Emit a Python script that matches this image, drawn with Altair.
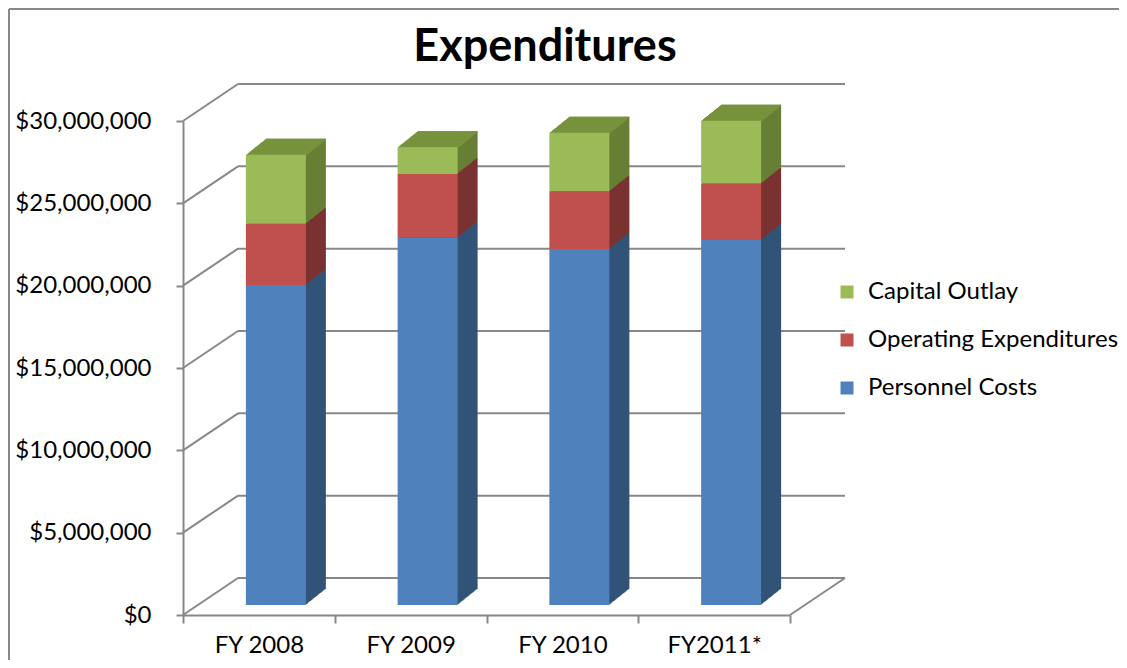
import altair as alt
import pandas as pd

# ---- data ----
years = ["FY 2008", "FY 2009", "FY 2010", "FY2011*"]
series_names = ["Personnel Costs", "Operating Expenditures", "Capital Outlay"]
legend_order = ["Capital Outlay", "Operating Expenditures", "Personnel Costs"]
personnel = [19_430_000, 22_310_000, 21_620_000, 22_170_000]
operating = [3_720_000, 3_870_000, 3_500_000, 3_420_000]
capital = [4_190_000, 1_620_000, 3_560_000, 3_820_000]
y_ticks = [0, 5_000_000, 10_000_000, 15_000_000, 20_000_000, 25_000_000, 30_000_000]

# ---- styles ----
FRONT = ["#9BBB59", "#C0504D", "#4F81BD"]      # legend_order
SIDE = ["#677F35", "#7B3331", "#335479"]       # legend_order
TOP = "#77933C"
GRID = "#888888"
FONT = "Lato"

rows = []
for i, yr in enumerate(years):
    base = 0
    for name, vals in zip(series_names, [personnel, operating, capital]):
        rows.append({"year": yr, "series": name, "y0": base, "y1": base + vals[i]})
        base += vals[i]
df = pd.DataFrame(rows)
tot = df.groupby("year", sort=False)["y1"].max().reset_index().rename(columns={"y1": "total"})
grid_df = pd.DataFrame({"v": y_ticks})
one = pd.DataFrame({"a": [0]})

W, H = 607, 494
DX_WALL, DY_WALL = 55, -37
BAR_DX, BAR_DY = 17, -10
DEPTH_X, DEPTH_Y = 20, -16
BAR_W = 60

yscale = alt.Scale(domain=[0, 30_000_000], nice=False, zero=True)
xscale = alt.Scale(domain=years, paddingInner=0, paddingOuter=0)
yaxis = alt.Axis(format="$,.0f", values=y_ticks, title=None, grid=False,
                 domainColor=GRID, domainWidth=2, tickColor=GRID, tickWidth=2,
                 tickSize=7, labelPadding=25, labelFontSize=24, labelFont=FONT,
                 labelColor="black")
xaxis = alt.Axis(title=None, grid=False, domainColor=GRID, domainWidth=2,
                 tickColor=GRID, tickWidth=2, tickSize=8, tickBand="extent",
                 labelPadding=10, labelFontSize=24, labelFont=FONT,
                 labelColor="black", labelAngle=0)


def X():
    return alt.X("year:N", sort=years, scale=xscale, axis=xaxis)


def Y(field):
    return alt.Y(f"{field}:Q", scale=yscale, axis=yaxis)


layers = []

# back wall gridlines
layers.append(
    alt.Chart(grid_df).mark_rule(color=GRID, strokeWidth=2, yOffset=DY_WALL).encode(
        y=Y("v"), x=alt.value(DX_WALL), x2=alt.value(W + DX_WALL)
    )
)
# left side wall diagonals
layers.append(
    alt.Chart(grid_df).mark_rule(color=GRID, strokeWidth=2, y2Offset=DY_WALL).encode(
        y=Y("v"), y2="v:Q", x=alt.value(0), x2=alt.value(DX_WALL)
    )
)
# right floor diagonal
layers.append(
    alt.Chart(grid_df[grid_df.v == 0]).mark_rule(color=GRID, strokeWidth=2, y2Offset=DY_WALL).encode(
        y=Y("v"), y2="v:Q", x=alt.value(W), x2=alt.value(W + DX_WALL)
    )
)

N = 20
# side faces (staircase approximation of the 3D depth), deepest copy first
for k in range(N, 0, -1):
    t = k / N
    layers.append(
        alt.Chart(df).mark_bar(
            size=BAR_W, xOffset=BAR_DX + DEPTH_X * t,
            yOffset=BAR_DY + DEPTH_Y * t, y2Offset=BAR_DY + DEPTH_Y * t,
        ).encode(
            x=X(), y=Y("y0"), y2="y1:Q",
            color=alt.Color("series:N", scale=alt.Scale(domain=legend_order, range=SIDE), legend=None),
        )
    )
# top faces
for k in range(1, N + 1):
    t = k / N
    layers.append(
        alt.Chart(tot).mark_bar(
            size=BAR_W, color=TOP, xOffset=BAR_DX + DEPTH_X * t,
            yOffset=BAR_DY + DEPTH_Y * t,
            y2Offset=BAR_DY + DEPTH_Y * (t - 1 / N) + 0.5,
        ).encode(x=X(), y=Y("total"), y2="total:Q")
    )
# front faces
layers.append(
    alt.Chart(df).mark_bar(size=BAR_W, xOffset=BAR_DX, yOffset=BAR_DY, y2Offset=BAR_DY).encode(
        x=X(), y=Y("y0"), y2="y1:Q",
        color=alt.Color(
            "series:N",
            scale=alt.Scale(domain=legend_order, range=FRONT),
            legend=alt.Legend(
                title=None, orient="none", legendX=652, legendY=159,
                symbolType="square", symbolSize=169, symbolStrokeWidth=0,
                labelFontSize=24, labelFont=FONT, labelColor="black",
                labelLimit=0, rowPadding=24, labelOffset=9, padding=0,
            ),
        ),
    )
)
# title
layers.append(
    alt.Chart(one).mark_text(
        text="Expenditures", font=FONT, fontSize=45, fontWeight="bold",
        align="center", baseline="alphabetic", color="black",
    ).encode(x=alt.value(362), y=alt.value(-60))
)
# outer frame (top and left edges visible)
layers.append(
    alt.Chart(one).mark_rule(color=GRID, strokeWidth=2).encode(
        x=alt.value(-174), x2=alt.value(W + 360), y=alt.value(-112)
    )
)
layers.append(
    alt.Chart(one).mark_rule(color=GRID, strokeWidth=2).encode(
        x=alt.value(-174), y=alt.value(-112), y2=alt.value(H + 70)
    )
)

chart = (
    alt.layer(*layers)
    .resolve_scale(color="independent")
    .properties(
        width=W, height=H,
        padding={"left": 175, "top": 113, "right": 329, "bottom": 45},
        autosize=alt.AutoSizeParams(type="none"),
        background="white",
    )
    .configure_view(stroke=None)
)

chart.save("out.html", embed_options={"renderer": "svg", "actions": False})
